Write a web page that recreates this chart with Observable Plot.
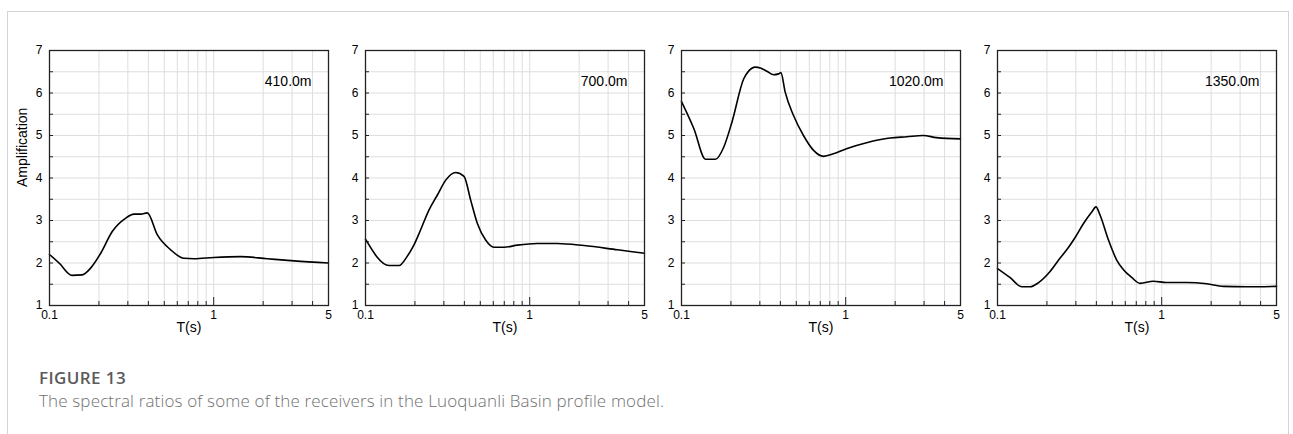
<!DOCTYPE html>
<html>
<head>
<meta charset="utf-8">
<script src="https://cdn.jsdelivr.net/npm/d3@7"></script>
<script src="https://cdn.jsdelivr.net/npm/@observablehq/plot@0.6"></script>
<style>
  html, body { margin: 0; padding: 0; background: #fff; }
  #wrap { position: relative; width: 1293px; height: 434px; overflow: hidden; background: #fff; }
  #box { position: absolute; left: 7px; top: 11px; width: 1282px; height: 460px; border: 1px solid #d4d4d4; box-sizing: border-box; }
  .panel { position: absolute; top: 30px; }
  .cap1 { position: absolute; left: 39px; top: 368px; font: 600 17px "Open Sans", sans-serif; letter-spacing: 0.4px; color: #5a5a5a; line-height: 20px; }
  .cap2 { position: absolute; left: 39px; top: 391px; font: 300 17px "Open Sans", sans-serif; letter-spacing: 0.15px; color: #707070; line-height: 20px; white-space: nowrap; }
</style>
</head>
<body>
<div id="wrap">
  <div id="box"></div>
  <div class="cap1">FIGURE 13</div>
  <div class="cap2">The spectral ratios of some of the receivers in the Luoquanli Basin profile model.</div>
</div>
<script>
// ---- data ----
const panelLabels = ["410.0m", "700.0m", "1020.0m", "1350.0m"];

const T_410 = [0.1, 0.115, 0.137, 0.158, 0.178, 0.205, 0.241, 0.29, 0.327, 0.36, 0.394, 0.454, 0.547, 0.659, 0.759, 1.0, 1.46, 2.12, 3.09, 5];
const A_410 = [2.20, 1.99, 1.71, 1.72, 1.88, 2.23, 2.74, 3.05, 3.15, 3.15, 3.18, 2.66, 2.31, 2.11, 2.10, 2.13, 2.15, 2.10, 2.05, 2.00];

const T_700 = [0.1, 0.139, 0.160, 0.179, 0.197, 0.216, 0.243, 0.274, 0.308, 0.354, 0.398, 0.437, 0.48, 0.539, 0.606, 0.697, 0.841, 1.11, 1.47, 2.14, 3.43, 5];
const A_700 = [2.56, 1.94, 1.94, 2.15, 2.42, 2.77, 3.24, 3.60, 3.95, 4.13, 4.04, 3.48, 2.93, 2.54, 2.37, 2.37, 2.42, 2.46, 2.46, 2.41, 2.31, 2.23];

const T_1020 = [0.1, 0.119, 0.140, 0.161, 0.181, 0.203, 0.239, 0.257, 0.281, 0.302, 0.331, 0.364, 0.390, 0.403, 0.428, 0.481, 0.553, 0.637, 0.732, 0.842, 1.01, 1.34, 1.86, 2.35, 2.96, 3.57, 5];
const A_1020 = [5.80, 5.16, 4.44, 4.44, 4.73, 5.32, 6.33, 6.52, 6.61, 6.59, 6.51, 6.43, 6.45, 6.48, 6.02, 5.47, 5.00, 4.65, 4.51, 4.57, 4.69, 4.83, 4.94, 4.97, 5.00, 4.95, 4.92];

const T_1350 = [0.1, 0.119, 0.141, 0.158, 0.178, 0.209, 0.240, 0.264, 0.297, 0.334, 0.375, 0.398, 0.421, 0.474, 0.532, 0.585, 0.656, 0.738, 0.889, 1.07, 1.42, 1.88, 2.37, 3.29, 5];
const A_1350 = [1.87, 1.66, 1.44, 1.44, 1.54, 1.80, 2.11, 2.31, 2.60, 2.93, 3.20, 3.32, 3.13, 2.54, 2.07, 1.84, 1.66, 1.52, 1.57, 1.54, 1.54, 1.51, 1.45, 1.44, 1.45];

const xTickLabels = [0.1, 1, 5];
const xMinorTicks = [0.2, 0.3, 0.4, 0.5, 0.6, 0.7, 0.8, 0.9, 2, 3, 4];
const xMajorTicks = [1];
const xGrid = [0.2, 0.3, 0.4, 0.5, 0.6, 0.7, 0.8, 0.9, 1, 2, 3, 4];
const yTickLabels = [1, 2, 3, 4, 5, 6, 7];
const yGrid = [1.5, 2, 2.5, 3, 3.5, 4, 4.5, 5, 5.5, 6, 6.5];
const yTicks = [1.5, 2, 2.5, 3, 3.5, 4, 4.5, 5, 5.5, 6, 6.5];

const series = [[T_410, A_410], [T_700, A_700], [T_1020, A_1020], [T_1350, A_1350]];
const plotLefts = [49, 365, 681, 997];

// ---- drawing ----
const PW = 279, PH = 255, ML = 40, MR = 10, MT = 20, MB = 40;
const wrap = document.getElementById("wrap");

series.forEach(([T, A], i) => {
  const data = T.map((t, j) => ({t, a: A[j]}));
  const marks = [
    Plot.ruleY(yGrid, {stroke: "#dedede", strokeWidth: 1}),
    Plot.ruleX(xGrid, {stroke: "#dedede", strokeWidth: 1}),
    Plot.tickY(yTicks, {y: d => d, insetRight: PW - 4, stroke: "#222", strokeWidth: 1}),
    Plot.tickX(xMinorTicks, {x: d => d, insetTop: PH - 4, stroke: "#222", strokeWidth: 1}),
    Plot.tickX(xMajorTicks, {x: d => d, insetTop: PH - 8, stroke: "#222", strokeWidth: 1}),
    Plot.line(data, {x: "t", y: "a", stroke: "#000", strokeWidth: 1.6, curve: "monotone-x"}),
    Plot.frame({stroke: "#222", strokeWidth: 1.3}),
    Plot.text(yTickLabels, {y: d => d, frameAnchor: "left", dx: -7, textAnchor: "end", fontSize: 12, fill: "#000"}),
    Plot.text(xTickLabels, {x: d => d, text: d => String(d), frameAnchor: "bottom", dy: 13, fontSize: 12, fill: "#000"}),
    Plot.text(["T(s)"], {frameAnchor: "bottom", dy: 26, fontSize: 14, fill: "#000"}),
    Plot.text([panelLabels[i]], {frameAnchor: "top-right", dx: -17, dy: 26, textAnchor: "end", fontSize: 14, fill: "#000"})
  ];
  if (i === 0) {
    marks.push(Plot.text(["Amplification"], {frameAnchor: "left", dx: -27, dy: 9, rotate: -90, fontSize: 14, fill: "#000"}));
  }
  const svg = Plot.plot({
    width: ML + PW + MR,
    height: MT + PH + MB,
    marginLeft: ML, marginRight: MR, marginTop: MT, marginBottom: MB,
    style: {fontFamily: "'Liberation Sans', Arial, sans-serif", background: "transparent", overflow: "visible"},
    x: {type: "log", domain: [0.1, 5], axis: null},
    y: {domain: [1, 7], axis: null},
    marks
  });
  const holder = document.createElement("div");
  holder.className = "panel";
  holder.style.left = (plotLefts[i] - ML) + "px";
  holder.appendChild(svg);
  wrap.appendChild(holder);
});
</script>
</body>
</html>
